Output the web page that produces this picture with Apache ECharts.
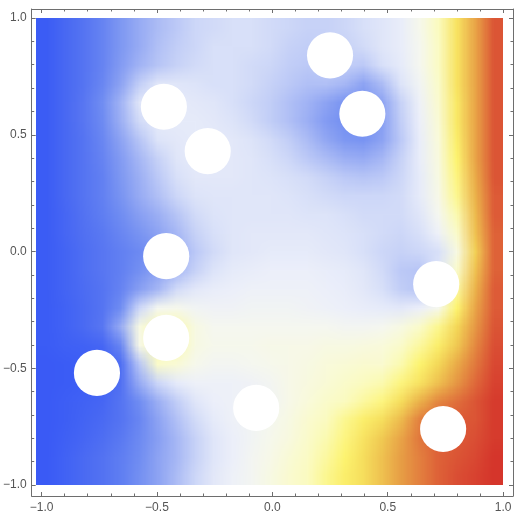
<!DOCTYPE html>
<html><head><meta charset="utf-8">
<script src="https://cdn.jsdelivr.net/npm/echarts@6/dist/echarts.min.js"></script>
<style>
html,body{margin:0;padding:0;background:#fff}
#wrap{position:relative;width:519px;height:523px;overflow:hidden}
#hm{position:absolute;left:36px;top:18px;width:25px;height:25px;transform-origin:0 0;transform:scale(18.68)}
#c{position:absolute;left:0;top:0;width:519px;height:523px}
</style>
</head><body><div id="wrap"><div id="hm"></div><div id="c"></div></div>
<script>
// cell centres of the sampled field (x left->right, y top->bottom)
const gridX = [-0.96,-0.88,-0.80,-0.72,-0.64,-0.56,-0.48,-0.40,-0.32,-0.24,-0.16,-0.08,0.00,0.08,0.16,0.24,0.32,0.40,0.48,0.56,0.64,0.72,0.80,0.88,0.96];
const gridY = [0.96,0.88,0.80,0.72,0.64,0.56,0.48,0.40,0.32,0.24,0.16,0.08,0.00,-0.08,-0.16,-0.24,-0.32,-0.40,-0.48,-0.56,-0.64,-0.72,-0.80,-0.88,-0.96];
const cellHalf = 0.04;
// field values (0 = blue, 50 = white, 70 = yellow, 100 = red)
const field = [
[3,9,15,21,27,32,36,39,42,43,44,44,43,42,41,41,42,44,46,49,56,65,73,82,93],
[3,9,15,21,27,32,37,40,42,44,44,44,43,41,40,41,41,43,46,49,55,64,73,82,93],
[3,9,15,21,28,34,38,41,43,44,44,43,42,40,39,40,40,39,44,48,55,64,73,82,93],
[3,9,15,22,30,40,46,46,45,44,44,43,41,39,37,37,35,30,36,45,53,63,73,82,93],
[3,9,16,24,34,46,48,48,47,46,44,42,40,37,34,30,26,26,30,41,51,62,72,82,93],
[3,9,16,23,33,43,48,48,48,47,45,43,40,37,33,28,25,25,29,40,50,61,72,82,93],
[3,9,15,22,30,38,45,47,48,48,47,45,43,40,36,31,27,26,30,39,49,60,71,82,93],
[3,9,15,21,28,35,41,46,48,48,47,46,44,42,39,36,33,32,35,41,49,59,70,82,93],
[3,9,15,20,27,33,39,44,47,47,47,46,45,44,43,41,39,38,39,42,48,58,69,81,93],
[3,9,15,20,26,32,37,42,45,46,46,46,46,45,44,43,42,42,42,43,48,57,68,80,92],
[3,8,14,19,24,29,33,38,43,45,46,46,46,46,45,45,44,43,43,43,46,55,66,79,92],
[3,8,13,17,22,26,30,35,41,44,46,47,47,47,47,46,45,44,43,42,44,51,63,78,91],
[3,7,12,16,20,23,26,32,39,43,46,47,48,48,48,47,46,44,42,41,42,44,58,76,91],
[3,7,12,16,20,25,30,35,41,45,48,49,50,50,50,49,48,46,43,39,38,45,63,78,91],
[3,7,11,15,21,29,35,43,47,49,50,51,51,51,51,50,49,47,44,40,38,45,67,80,92],
[3,6,10,15,24,42,55,56,53,52,52,53,53,53,52,51,50,49,48,47,50,56,70,82,92],
[3,6,10,16,32,58,66,66,58,55,55,55,55,55,55,55,54,54,55,58,63,68,75,84,93],
[3,5,6,8,22,57,66,66,58,56,56,56,57,57,57,58,58,59,60,63,67,71,77,86,94],
[2,3,4,5,12,38,63,61,56,54,54,55,56,57,58,60,61,62,62,66,70,75,81,88,95],
[2,3,4,6,13,32,42,48,51,51,51,52,54,57,59,61,63,65,66,69,73,78,84,90,96],
[2,4,6,8,15,24,33,40,46,50,51,52,53,57,60,63,65,67,69,74,80,86,89,93,97],
[2,4,7,10,15,22,30,37,43,48,51,53,55,58,62,65,68,71,74,79,87,91,92,93,97],
[2,5,8,12,17,23,29,35,41,46,50,53,56,59,63,66,69,73,77,82,88,91,92,94,97],
[2,6,10,14,19,24,30,35,41,46,50,54,57,61,64,67,70,74,78,83,87,91,93,95,98],
[2,6,10,14,19,25,30,36,42,47,51,54,58,62,65,68,71,74,78,83,87,91,94,96,98]
];
// white circular holes
const holeX = [0.25, 0.39, -0.47, -0.28, -0.46, -0.46, -0.76, -0.07, 0.71, 0.74];
const holeY = [0.84, 0.59, 0.62, 0.43, -0.02, -0.37, -0.52, -0.67, -0.14, -0.76];
const holeR = 0.1;
// ticks
const majorTicks = [-1, -0.5, 0, 0.5, 1];
const minorTicks = [-0.9,-0.8,-0.7,-0.6,-0.4,-0.3,-0.2,-0.1,0.1,0.2,0.3,0.4,0.6,0.7,0.8,0.9];
const tickLabels = ['\u22121.0', '\u22120.5', '0.0', '0.5', '1.0'];
const colorStops = ['#3656f5','#3f60f5','#4a6af3','#5574f2','#6280f2','#7490f2','#8da3f3','#a6b7f5','#c2cef7','#dde4f9','#eceffa','#f5f7f0','#f9fadb','#fbfbc0','#fdf470','#f4d858','#ebb24a','#e59042','#df683a','#d94832','#d22826'];

const cells = [];
for (let j = 0; j < gridY.length; j++)
  for (let i = 0; i < gridX.length; i++)
    cells.push([gridX[i], gridY[j], field[j][i]]);
const holes = holeX.map((x, k) => [x, holeY[k]]);

// ---- field layer (one screen pixel per cell, smoothly enlarged by the browser) ----
const hm = echarts.init(document.getElementById('hm'), null, { renderer: 'canvas', devicePixelRatio: 1 });
hm.setOption({
  animation: false,
  grid: { left: 0, right: 0, top: 0, bottom: 0 },
  xAxis: { type: 'value', min: -1, max: 1, show: false },
  yAxis: { type: 'value', min: -1, max: 1, show: false },
  visualMap: { show: false, type: 'continuous', min: 0, max: 100, dimension: 2, inRange: { color: colorStops } },
  series: [{
    type: 'custom', data: cells, silent: true,
    renderItem: (params, api) => {
      const x = api.value(0), y = api.value(1);
      const p0 = api.coord([x - cellHalf, y + cellHalf]);
      const p1 = api.coord([x + cellHalf, y - cellHalf]);
      return { type: 'rect', shape: { x: p0[0], y: p0[1], width: p1[0] - p0[0], height: p1[1] - p0[1] }, style: { fill: api.visual('color') } };
    }
  }]
});

// ---- frame, ticks, labels and holes ----
const xMin = -1 - 10 / 233.5, xMax = 1 + 10 / 233.5;
const yMin = -1 - 11 / 233.5, yMax = 1 + 9 / 233.5;
const frame = '#6e6e6e';
const lbl = v => tickLabels[majorTicks.indexOf(Math.round(v * 10) / 10)] || '';

function axis(dim, pos, ticks, len, withLine, withLabel) {
  return {
    type: 'value', position: pos,
    min: dim === 'x' ? xMin : yMin, max: dim === 'x' ? xMax : yMax,
    axisLine: { show: withLine, onZero: false, lineStyle: { color: frame, width: 1 } },
    axisTick: { show: true, inside: true, length: len, customValues: ticks, lineStyle: { color: frame, width: 1 } },
    axisLabel: withLabel ? { show: true, customValues: majorTicks, formatter: lbl, color: '#555', fontSize: 12, fontFamily: 'Liberation Sans, Arial, sans-serif', margin: dim === 'x' ? 6 : 5 } : { show: false },
    splitLine: { show: false }
  };
}

const chart = echarts.init(document.getElementById('c'), null, { renderer: 'canvas', devicePixelRatio: 1 });
chart.setOption({
  animation: false,
  backgroundColor: 'transparent',
  grid: { left: 26, right: 6, top: 9, bottom: 27, containLabel: false },
  xAxis: [
    axis('x', 'bottom', majorTicks, 4, true, true),
    axis('x', 'bottom', minorTicks, 2.5, false, false),
    axis('x', 'top', majorTicks, 4, true, false),
    axis('x', 'top', minorTicks, 2.5, false, false)
  ],
  yAxis: [
    axis('y', 'left', majorTicks, 4, true, true),
    axis('y', 'left', minorTicks, 2.5, false, false),
    axis('y', 'right', majorTicks, 4, true, false),
    axis('y', 'right', minorTicks, 2.5, false, false)
  ],
  series: [{
    type: 'custom', xAxisIndex: 0, yAxisIndex: 0, data: holes, silent: true, z: 5,
    renderItem: (params, api) => {
      const c = api.coord([api.value(0), api.value(1)]);
      const r = api.size([holeR, 0])[0];
      return { type: 'circle', shape: { cx: c[0], cy: c[1], r: r }, style: { fill: '#ffffff' } };
    }
  }]
});
</script></body></html>
